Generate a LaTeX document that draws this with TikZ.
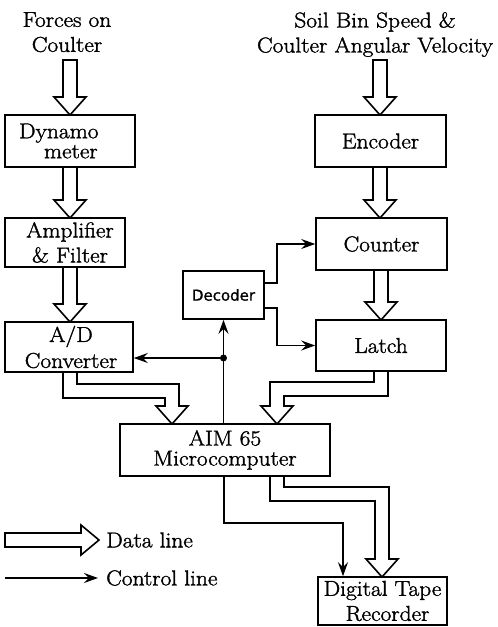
\documentclass[tikz,border=0pt]{standalone}
\usepackage{fontspec}
\newfontfamily\heavy{Latin Modern Roman}[FakeBold=1.5,FakeStretch=1.09]
\newfontfamily\decfont{DejaVu Sans}[FakeBold=1]
\usetikzlibrary{arrows.meta,calc}
\tikzset{
  box/.style={draw, line width=1.6pt, inner sep=0pt, align=center, font=\heavy\fontsize{21.5}{25}\selectfont},
  fat/.style={draw, fill=white, line width=1.6pt, line join=miter},
  ctrl/.style={draw, line width=1.6pt, -{Stealth[length=14pt,width=10pt,inset=5pt]}},
  lbl/.style={inner sep=0pt, font=\heavy\fontsize{21.5}{25}\selectfont, align=center},
}
\newcommand{\fatdown}[3]{%
  \draw[fat] ({#1-7},#2) -- ({#1-7},{#3-18}) -- ({#1-16},{#3-18}) -- (#1,#3)
    -- ({#1+16},{#3-18}) -- ({#1+7},{#3-18}) -- ({#1+7},#2) -- cycle;}
\begin{document}
\begin{tikzpicture}[x=1pt,y=-1pt]
\useasboundingbox (0,0) rectangle (498,627);
% headings
\node[lbl, anchor=north] (forces) at (67,12) {Forces on\\Coulter};
\node[lbl, anchor=north] (soil) at (375,12) {Soil Bin Speed \&\\Coulter Angular Velocity};
% boxes
\node[box, minimum width=130pt, minimum height=52pt, align=left] (dyn) at (70,141)
  {\makebox[102pt][l]{Dynamo}\\[-5pt]\hspace*{25pt}meter};
\node[box, minimum width=120pt, minimum height=49pt] (amp) at (65,242.5) {\hspace*{10pt}Amplifier\\[0pt]\hspace*{10pt}\& Filter};
\node[box, minimum width=128pt, minimum height=50pt] (adc) at (69,347) {\hspace*{4pt}A/D\\[1pt]\hspace*{4pt}Converter};
\node[box, minimum width=81pt, minimum height=48pt, font=\decfont\fontsize{15}{18}\selectfont] (dec) at (223.5,295) {Decoder};
\node[box, minimum width=131pt, minimum height=52pt] (enc) at (380.5,141) {Encoder};
\node[box, minimum width=131pt, minimum height=52pt] (cnt) at (381.5,244) {Counter};
\node[box, minimum width=130pt, minimum height=51pt] (lat) at (381,345.5) {Latch};
\node[box, minimum width=210pt, minimum height=52pt] (aim) at (225,450) {AIM 65\\[-5pt]Microcomputer};
\node[box, minimum width=129pt, minimum height=48pt] (tape) at (382.5,601) {Digital Tape\\\hspace*{10pt}Recorder};
% data lines (straight)
\fatdown{70}{60}{115}
\fatdown{70}{167}{218}
\fatdown{70}{267}{322}
\fatdown{380}{60}{115}
\fatdown{380}{167}{218}
\fatdown{381}{270}{320}
% data lines (bent)
\draw[fat] (63,372) -- (63,398) -- (165,398) -- (165,406) -- (156,406) -- (172,424)
  -- (188,406) -- (179,406) -- (179,384) -- (77,384) -- (77,372) -- cycle;
\draw[fat] (374,371) -- (374,382) -- (270,382) -- (270,406) -- (261,406) -- (277,424)
  -- (293,406) -- (284,406) -- (284,396) -- (388,396) -- (388,371) -- cycle;
\draw[fat] (270,476) -- (270,501) -- (375,501) -- (375,559) -- (366,559) -- (382,577)
  -- (398,559) -- (389,559) -- (389,487) -- (284,487) -- (284,476) -- cycle;
% control lines
\coordinate (j) at (223.5,358);
\draw[ctrl] (aim.north -| dec.south) -- (dec.south);
\draw[ctrl] (j) -- (j -| adc.east);
\fill (j) circle (3.5pt);
\draw[ctrl] ([yshift=12pt]dec.east) -- ++(12,0) |- (cnt.west);
\draw[ctrl] ([yshift=-13pt]dec.east) -- ++(12,0) |- (lat.west);
\draw[ctrl] ([xshift=-1pt]aim.south) -- ++(0,46) -| ([xshift=-39.5pt]tape.north);
% legend
\draw[fat] (5,533) -- (81,533) -- (81,525) -- (99,540) -- (81,555) -- (81,547) -- (5,547) -- cycle;
\node[lbl, anchor=west] (ldata) at (106,540) {Data line};
\coordinate (lc1) at (5,578);
\coordinate (lc2) at (98,578);
\draw[ctrl] (lc1) -- (lc2);
\node[lbl, anchor=west] (lctrl) at (106,578) {Control line};
\end{tikzpicture}
\end{document}
